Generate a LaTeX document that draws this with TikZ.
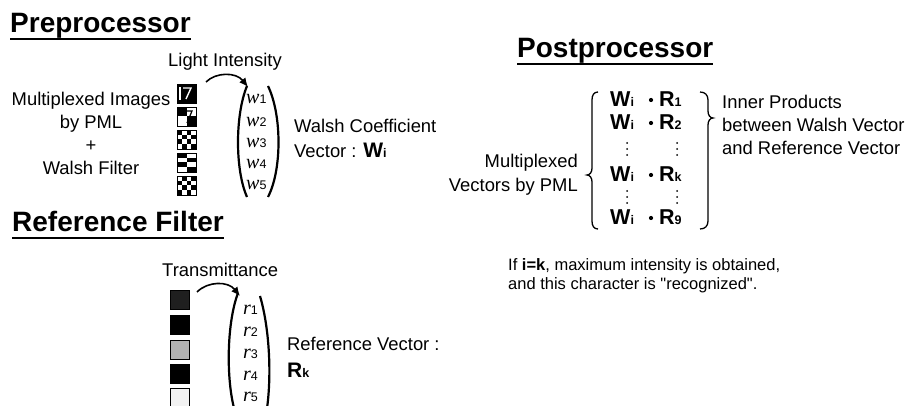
\documentclass[tikz,border=0pt]{standalone}
\usepackage{fontspec}
\setmainfont{Liberation Sans}[Ligatures=TeXOff]
\newfontfamily\letra{Liberation Serif}
\usetikzlibrary{arrows.meta}
\newcommand\sbi[1]{{\fontsize{12.5}{12.5}\selectfont #1}}
\tikzset{
	titulo/.style={font=\fontsize{28}{30}\selectfont\bfseries, anchor=base west, inner sep=0pt},
	texto/.style={font=\fontsize{18.4}{22}\selectfont, anchor=base west, inner sep=0pt},
	nota/.style={font=\fontsize{16.5}{19}\selectfont, anchor=base west, inner sep=0pt},
	fila/.style={font=\fontsize{21.5}{22}\selectfont\bfseries, anchor=base west, inner sep=0pt},
	elem/.style={font=\fontsize{20}{22}\selectfont, anchor=base west, inner sep=0pt},
	subrayado/.style={line width=1.8pt},
	flecha/.style={line width=1.6pt, -{Latex[length=9pt, width=8pt]}},
	parentesis/.style={line width=2.2pt},
	llave/.style={line width=1.3pt},
}
\begin{document}
\begin{tikzpicture}[x=1pt, y=-1pt]
	\useasboundingbox (0,0) rectangle (918,406);
	% Preprocesador
		\node[titulo] (pre) at (10,33) {Preprocessor};
		\draw[subrayado] ([yshift=-6pt]pre.base west) -- ([yshift=-6pt]pre.base east);
		\node[texto] (luz) at (168,67) {Light Intensity};
		% Textos de la izquierda
			\node[texto, anchor=base] (mi1) at (91,106) {Multiplexed Images};
			\node[texto, anchor=base] (mi2) at (91,129) {by PML};
			\node[texto, anchor=base] (mi3) at (91,152) {+};
			\node[texto, anchor=base] (mi4) at (91,175) {Walsh Filter};
		% Imagenes multiplexadas
			\fill (177,84) rectangle ++(19,19);
			\draw[white, line width=1.4pt] (183,88) -- (191,88) -- (186,99);
			\draw[white, line width=1.2pt] (180,87) -- (180,100);
			\foreach \c/\r in {0/0,1/0,0/1,1/1,2/2,3/2,2/3,3/3}
				\fill (177+4.75*\c,107+4.75*\r) rectangle ++(4.75,4.75);
			\draw[line width=1.2pt] (185,111) -- (192,111) -- (187,123);
			\foreach \c/\r in {0/0,2/0,1/1,3/1,0/2,2/2,1/3,3/3}
				\fill (177+4.75*\c,130+4.75*\r) rectangle ++(4.75,4.75);
			\foreach \c/\r in {0/0,1/0,2/1,3/1,0/2,1/2,2/3,3/3}
				\fill (177+4.75*\c,153+4.75*\r) rectangle ++(4.75,4.75);
			\foreach \c/\r in {1/0,3/0,0/1,2/1,1/2,3/2,0/3,2/3}
				\fill (177+4.75*\c,176+4.75*\r) rectangle ++(4.75,4.75);
			\foreach \i in {0,...,4}
				\draw[thick] (177,84+23*\i) rectangle ++(19,19);
		% Flecha
			\coordinate (li-a) at (206,82);
			\coordinate (li-b) at (248,87);
			\draw[flecha] (li-a) .. controls (216,72) and (236,72) .. (li-b);
		% Vector de Walsh
			\draw[parentesis] (247,86) .. controls (235,115) and (235,170) .. (247,197);
			\draw[parentesis] (268,86) .. controls (282,115) and (282,170) .. (268,197);
			\foreach \y/\k in {104/1,127/2,148/3,169/4,190/5}
				\node[elem] (w\k) at (246,\y) {{\letra\itshape w}\sbi{\k}};
		\node[texto] (wc1) at (294,133) {Walsh Coefficient};
		\node[texto] (wc2) at (294,158) {Vector : {\fontsize{21}{22}\selectfont\bfseries W\sbi{i}}};
	% Filtro de referencia
		\node[titulo] (ref) at (12,232) {Reference Filter};
		\draw[subrayado] ([yshift=-6pt]ref.base west) -- ([yshift=-6pt]ref.base east);
		\node[texto] (trans) at (162,276) {Transmittance};
		% Cuadros de transmitancia
			\fill[black!88] (170,290) rectangle ++(19,19);
			\fill[black] (170,315) rectangle ++(19,19);
			\fill[black!30] (170,340) rectangle ++(19,19);
			\fill[black] (170,364) rectangle ++(19,19);
			\fill[black!5] (170,388) rectangle ++(19,19);
			\foreach \y in {290,315,340,364,388}
				\draw[thin] (170,\y) rectangle ++(19,19);
		% Flecha
			\coordinate (tr-a) at (197,292);
			\coordinate (tr-b) at (240,296);
			\draw[flecha] (tr-a) .. controls (208,281) and (228,281) .. (tr-b);
		% Vector de referencia
			\draw[parentesis] (238,293) .. controls (226,325) and (226,385) .. (236,415);
			\draw[parentesis] (260,296) .. controls (270,330) and (272,380) .. (266,415);
			\foreach \y/\k in {314/1,336/2,358/3,380/4,401/5}
				\node[elem] (r\k) at (243,\y) {{\letra\itshape r}\sbi{\k}};
		\node[texto] (rv1) at (287,350) {Reference Vector :};
		\node[texto] (rv2) at (287,377) {\fontsize{21}{22}\selectfont\bfseries R\sbi{k}};
	% Postprocesador
		\node[titulo] (post) at (517,58) {Postprocessor};
		\draw[subrayado] ([yshift=-6pt]post.base west) -- ([yshift=-6pt]post.base east);
		\node[texto, anchor=base east] (mv1) at (578,168) {Multiplexed};
		\node[texto, anchor=base east] (mv2) at (578,192) {Vectors by PML};
		% Productos internos
			\foreach \y/\k in {107/1,130/2,182/k,225/9}{
				\node[fila] (wi\k) at (610,\y) {W\sbi{i}};
				\fill (651,\y-7) circle[radius=2.1pt];
				\node[fila] (rk\k) at (659,\y) {R\sbi{\k}};
			}
			\foreach \y in {149,197}
				\foreach \d in {-6,0,6}{
					\fill (627,\y+\d) circle[radius=1pt];
					\fill (677,\y+\d) circle[radius=1pt];
				}
		% Llaves
			\draw[llave] (598,92) .. controls (594,92) and (592,95) .. (592,100) -- (592,168)
				.. controls (592,172) and (590,175) .. (587,175) .. controls (590,175) and (592,178) .. (592,182)
				-- (592,221) .. controls (592,226) and (594,229) .. (598,229);
			\draw[llave] (700,92) .. controls (705,92) and (708,95) .. (708,100) -- (708,111)
				.. controls (708,115) and (710,118) .. (713,118) .. controls (710,118) and (708,121) .. (708,125)
				-- (708,221) .. controls (708,226) and (705,229) .. (700,229);
		\node[texto] (ip1) at (722,109) {Inner Products};
		\node[texto] (ip2) at (722,132) {between Walsh Vector};
		\node[texto] (ip3) at (722,155) {and Reference Vector};
		% Nota
			\node[nota] (nt1) at (508,270) {If \textbf{i=k}, maximum intensity is obtained,};
			\node[nota] (nt2) at (508,289) {and this character is "recognized".};
\end{tikzpicture}
\end{document}
